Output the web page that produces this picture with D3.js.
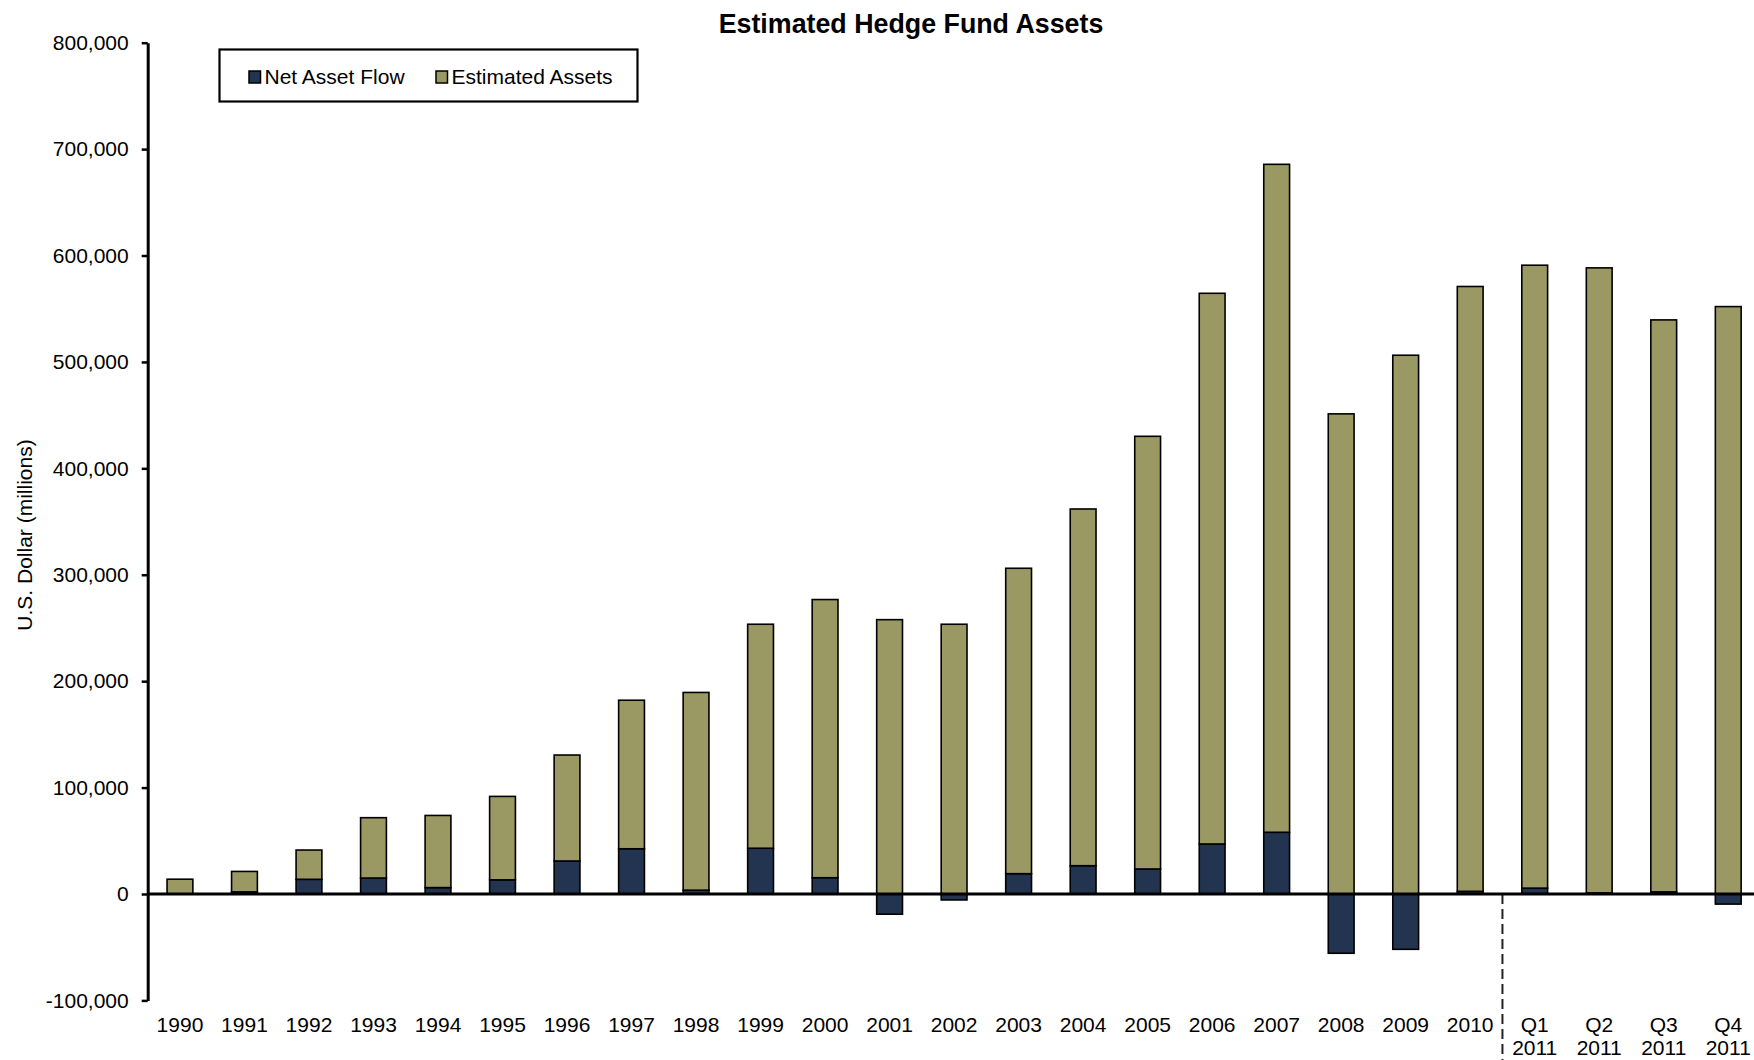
<!DOCTYPE html>
<html>
<head>
<meta charset="utf-8">
<script src="https://cdn.jsdelivr.net/npm/d3@7"></script>
<style>
  html, body { margin: 0; padding: 0; background: #fff; }
  svg { display: block; font-family: "Liberation Sans", Arial, sans-serif; }
</style>
</head>
<body>
<svg id="chart" width="1754" height="1060"></svg>
<script>
// Annual figures 1990-2010, then the four quarters of 2011 (US$ millions)
const categories = [
  "1990", "1991", "1992", "1993", "1994", "1995", "1996", "1997", "1998", "1999",
  "2000", "2001", "2002", "2003", "2004", "2005", "2006", "2007", "2008", "2009",
  "2010", "Q1 2011", "Q2 2011", "Q3 2011", "Q4 2011"
];

const netAssetFlow = [
  0, 2000, 13800, 15000, 6000, 13300, 31000, 42500, 3600, 43000,
  15300, -19000, -5600, 19100, 26600, 23500, 47000, 58000, -55700, -52000,
  2500, 5500, 1000, 2000, -9500
];

const estimatedAssets = [
  13900, 19200, 27500, 56700, 67800, 78400, 99600, 139600, 185800, 210500,
  261400, 257800, 253500, 287000, 335200, 406600, 517500, 627700, 451200, 506300,
  568400, 585400, 587400, 537500, 552000
];

const yTicks = [-100000, 0, 100000, 200000, 300000, 400000, 500000, 600000, 700000, 800000];

const seriesNames = ["Net Asset Flow", "Estimated Assets"];
const seriesColors = ["#233450", "#9b9963"];

const svg = d3.select("#chart");
const W = 1754, H = 1060;

const x = d3.scaleBand()
  .domain(categories)
  .range([147.7, 1760.5])
  .paddingInner(0.6)
  .paddingOuter(0.3);

const y = d3.scaleLinear()
  .domain([-100000, 800000])
  .range([1000.4, 42.7]);

const rows = categories.map((c, i) => ({
  category: c,
  flow: netAssetFlow[i],
  assets: estimatedAssets[i]
}));

const stacked = d3.stack()
  .keys(["flow", "assets"])
  .offset(d3.stackOffsetDiverging)(rows);

// Title
svg.append("text")
  .attr("x", 911)
  .attr("y", 33)
  .attr("text-anchor", "middle")
  .style("font-size", "26.8px")
  .style("font-weight", "bold")
  .text("Estimated Hedge Fund Assets");

// Stacked bars
const barW = x.bandwidth();
svg.append("g")
  .selectAll("g")
  .data(stacked)
  .join("g")
  .attr("fill", (d, i) => seriesColors[i])
  .selectAll("rect")
  .data(d => d.filter(p => p[1] !== p[0]))
  .join("rect")
  .attr("x", d => x(d.data.category))
  .attr("y", d => y(Math.max(d[0], d[1])))
  .attr("width", barW)
  .attr("height", d => Math.abs(y(d[0]) - y(d[1])))
  .attr("stroke", "#000")
  .attr("stroke-width", 1.6);

// Divider between annual and quarterly figures
const divX = (x("2010") + barW + x("Q1 2011")) / 2;
svg.append("line")
  .attr("x1", divX).attr("x2", divX)
  .attr("y1", y(0)).attr("y2", H)
  .attr("stroke", "#222")
  .attr("stroke-width", 2)
  .attr("stroke-dasharray", "10,5");

// Zero baseline
svg.append("line")
  .attr("x1", 147.7).attr("x2", W)
  .attr("y1", y(0)).attr("y2", y(0))
  .attr("stroke", "#000")
  .attr("stroke-width", 3);

// Y axis
const fmt = d3.formatLocale({ decimal: ".", thousands: ",", grouping: [3], currency: ["$", ""], minus: "-" }).format(",");
const yAxis = svg.append("g")
  .attr("transform", "translate(147.7,0)")
  .call(d3.axisLeft(y).tickValues(yTicks).tickFormat(fmt).tickSize(6).tickSizeOuter(0).tickPadding(13));
yAxis.select(".domain").attr("stroke", "#000").attr("stroke-width", 3);
yAxis.selectAll(".tick line").attr("stroke", "#000").attr("stroke-width", 2.5);
yAxis.selectAll(".tick text")
  .attr("fill", "#000")
  .style("font-size", "21px")
  .style("font-family", "'Liberation Sans', Arial, sans-serif");

// Y axis title
svg.append("text")
  .attr("transform", "translate(32,535) rotate(-90)")
  .attr("text-anchor", "middle")
  .style("font-size", "21px")
  .text("U.S. Dollar (millions)");

// X axis category labels (quarter labels wrap onto two lines)
const xAxis = svg.append("g")
  .attr("transform", "translate(0,1031.5)")
  .call(d3.axisBottom(x).tickSize(0).tickPadding(0));
xAxis.select(".domain").remove();
xAxis.selectAll(".tick text")
  .attr("fill", "#000")
  .attr("dy", 0)
  .attr("y", 0)
  .style("font-size", "21px")
  .style("font-family", "'Liberation Sans', Arial, sans-serif")
  .each(function (d) {
    const parts = d.split(" ");
    const t = d3.select(this).text(null);
    parts.forEach((p, i) => {
      t.append("tspan").attr("x", 0).attr("dy", i === 0 ? 0 : 23).text(p);
    });
  });

// Legend
const legend = svg.append("g");
legend.append("rect")
  .attr("x", 219.5).attr("y", 49.5)
  .attr("width", 418).attr("height", 52)
  .attr("fill", "#fff")
  .attr("stroke", "#000")
  .attr("stroke-width", 2.2);
const legendItems = [
  { name: seriesNames[0], color: seriesColors[0], sx: 249, tx: 264.5 },
  { name: seriesNames[1], color: seriesColors[1], sx: 436, tx: 451.5 }
];
legendItems.forEach(it => {
  legend.append("rect")
    .attr("x", it.sx).attr("y", 71)
    .attr("width", 11.5).attr("height", 12)
    .attr("fill", it.color)
    .attr("stroke", "#000")
    .attr("stroke-width", 1.5);
  legend.append("text")
    .attr("x", it.tx).attr("y", 84)
    .style("font-size", "21px")
    .text(it.name);
});
</script>
</body>
</html>
